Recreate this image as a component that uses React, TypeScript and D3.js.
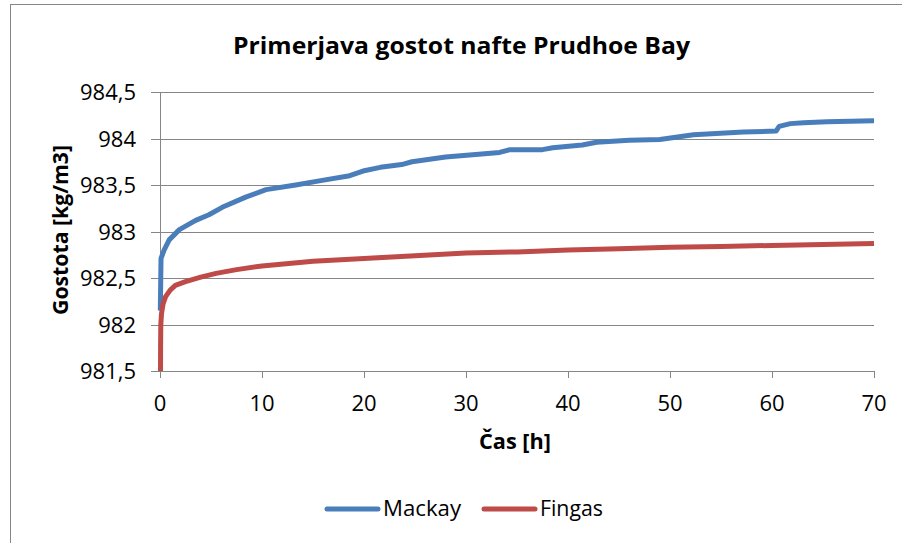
import React from 'react';
import * as d3 from 'd3';

const chartTitle = 'Primerjava gostot nafte Prudhoe Bay';
const xTitle = 'Čas [h]';
const yTitle = 'Gostota [kg/m3]';
const xTicks = [0, 10, 20, 30, 40, 50, 60, 70];
const yTicks = [981.5, 982, 982.5, 983, 983.5, 984, 984.5];
const seriesNames = ['Mackay', 'Fingas'];
const seriesColors = ['#4a7ebb', '#be4b48'];

const mackayT = [0.03, 0.1, 0.4, 0.9, 1.9, 3.5, 4.8, 6.1, 8.4, 10.4, 13.3, 15.9, 18.6, 19.9, 21.6, 23.7, 24.7, 28.0, 33.3, 34.3, 37.5, 38.5, 41.4, 42.8, 46.0, 49.0, 52.3, 57.2, 60.4, 60.7, 61.8, 63.1, 65.4, 70];
const mackayV = [982.15, 982.71, 982.8, 982.91, 983.02, 983.12, 983.18, 983.26, 983.37, 983.45, 983.5, 983.55, 983.6, 983.65, 983.69, 983.72, 983.75, 983.8, 983.85, 983.88, 983.88, 983.9, 983.93, 983.96, 983.98, 983.99, 984.04, 984.07, 984.08, 984.13, 984.16, 984.17, 984.18, 984.19];

const fingasT = [0.05, 0.06, 0.08, 0.15, 0.3, 0.55, 1.0, 1.5, 2.5, 4, 5.5, 7.5, 10, 15, 20, 25, 30, 35, 40, 45, 50, 55, 60, 65, 70];
const fingasV = [981.5, 981.8, 982.0, 982.12, 982.22, 982.3, 982.37, 982.42, 982.46, 982.51, 982.55, 982.59, 982.63, 982.68, 982.71, 982.74, 982.77, 982.78, 982.8, 982.815, 982.83, 982.84, 982.85, 982.86, 982.87];

const FONT = "'Open Sans', 'DejaVu Sans', sans-serif";

export default function App() {
  const x = d3.scaleLinear().domain([0, 70]).range([160, 874]);
  const y = d3.scaleLinear().domain([981.5, 984.5]).range([371, 92]);
  const locale = d3.formatLocale({ decimal: ',', thousands: '.', grouping: [3], currency: ['', ''] });
  const fmt = locale.format('.1~f');

  const series = [
    mackayT.map((t, i) => [t, mackayV[i]] as [number, number]),
    fingasT.map((t, i) => [t, fingasV[i]] as [number, number]),
  ];
  const line = d3.line<[number, number]>().x(d => x(d[0])).y(d => y(d[1]));
  const grid = '#868686';

  const legendItems = [
    { lx: 327, tx: 383, len: 78 },
    { lx: 484, tx: 540, len: 63 },
  ];

  return (
    <svg width={902} height={543} style={{ position: 'absolute', left: 0, top: 0, background: '#fff' }} fontFamily={FONT}>
      <rect x={10.5} y={4.5} width={1000} height={1000} fill="#fff" stroke="#868686" strokeWidth={1} />
      <text x={461.5} y={54} textAnchor="middle" fontWeight="bold" fontSize={24} textLength={457} lengthAdjust="spacingAndGlyphs" fill="#000">{chartTitle}</text>

      {yTicks.map(v => (
        <g key={v}>
          <line x1={151} x2={874} y1={Math.round(y(v)) + 0.5} y2={Math.round(y(v)) + 0.5} stroke={grid} strokeWidth={1} />
          <text x={136} y={y(v) + 8} textAnchor="end" fontSize={22} fill="#000">{fmt(v)}</text>
        </g>
      ))}
      <line x1={160.5} x2={160.5} y1={92} y2={371.5} stroke={grid} strokeWidth={1} />
      {xTicks.map(v => (
        <g key={v}>
          <line x1={Math.round(x(v)) + 0.5} x2={Math.round(x(v)) + 0.5} y1={371} y2={378} stroke={grid} strokeWidth={1} />
          <text x={x(v)} y={410.5} textAnchor="middle" fontSize={22} fill="#000">{v}</text>
        </g>
      ))}

      {series.map((s, i) => (
        <path key={i} d={line(s) || ''} fill="none" stroke={seriesColors[i]} strokeWidth={5} strokeLinejoin="round" strokeLinecap="butt" />
      ))}

      <text x={515} y={449} textAnchor="middle" fontWeight="bold" fontSize={22} textLength={72} lengthAdjust="spacingAndGlyphs" fill="#000">{xTitle}</text>
      <text transform="translate(68,230) rotate(-90)" textAnchor="middle" fontWeight="bold" fontSize={22} textLength={170} lengthAdjust="spacingAndGlyphs" fill="#000">{yTitle}</text>

      {seriesNames.map((n, i) => (
        <g key={n}>
          <line x1={legendItems[i].lx} x2={legendItems[i].lx + 51} y1={509} y2={509} stroke={seriesColors[i]} strokeWidth={5} strokeLinecap="round" />
          <text x={legendItems[i].tx} y={516} fontSize={22} textLength={legendItems[i].len} lengthAdjust="spacingAndGlyphs" fill="#000">{n}</text>
        </g>
      ))}
    </svg>
  );
}
